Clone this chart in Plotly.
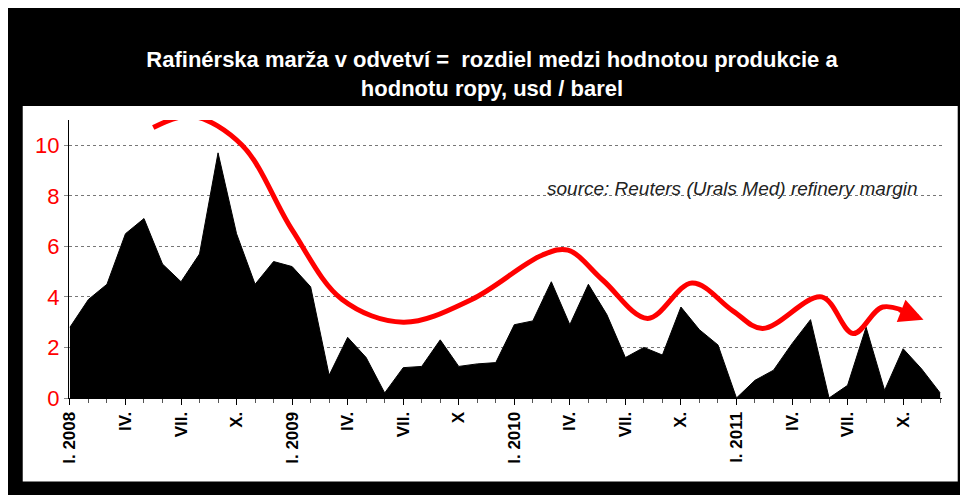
import plotly.graph_objects as go

months = list(range(48))
margin = [2.8, 3.9, 4.5, 6.5, 7.1, 5.3, 4.6, 5.7, 9.7, 6.5, 4.5, 5.4,
          5.2, 4.4, 0.9, 2.4, 1.6, 0.2, 1.2, 1.25, 2.3, 1.25, 1.35, 1.4,
          2.9, 3.05, 4.6, 2.9, 4.5, 3.3, 1.6, 2.0, 1.7, 3.6, 2.7, 2.1,
          0.0, 0.7, 1.1, 2.15, 3.1, 0.0, 0.5, 2.8, 0.3, 1.95, 1.15, 0.2]

trend_x = [4.5, 6.6, 9.3, 12, 14.7, 18, 21.7, 25.5, 26.9, 28.8, 31.2, 33.6, 35.8, 37.4, 40.6, 42.3, 43.9, 45.8]
trend_y = [10.7, 11.15, 10.0, 6.65, 3.9, 3.0, 3.9, 5.65, 5.85, 4.65, 3.15, 4.55, 3.45, 2.75, 4.0, 2.55, 3.6, 3.2]

tick_pos = list(range(0, 48, 3))
tick_text = ["I. 2008", "IV.", "VII.", "X.", "I. 2009", "IV.", "VII.", "X",
             "I. 2010", "IV.", "VII.", "X.", "I. 2011", "IV.", "VII.", "X."]

fig = go.Figure()
fig.add_trace(go.Scatter(x=months, y=margin, mode="lines", fill="tozeroy",
                         line=dict(color="black", width=1), fillcolor="black"))
fig.add_trace(go.Scatter(x=trend_x, y=trend_y, mode="lines", cliponaxis=False,
                         line=dict(color="#ff0000", width=5, shape="spline", smoothing=1.0)))

# arrow head at the end of the trend
fig.add_annotation(x=trend_x[-1] + 0.3, y=trend_y[-1] - 0.1, ax=trend_x[-2] + 0.8, ay=trend_y[-2] - 0.1,
                   xref="x", yref="y", axref="x", ayref="y", text="", showarrow=True,
                   arrowhead=2, arrowsize=1.2, arrowwidth=4, arrowcolor="#ff0000")

fig.add_annotation(x=0.975, y=0.8, xref="paper", yref="paper", xanchor="right", showarrow=False,
                   text="<i>source: Reuters (Urals Med) refinery margin</i>",
                   font=dict(family="Arial", size=19, color="#222"))

fig.add_shape(type="rect", xref="paper", yref="paper", x0=-0.053, x1=1.018, y0=-0.3, y1=1.05,
              fillcolor="white", line=dict(width=0), layer="below")

fig.update_layout(
    width=968, height=495,
    paper_bgcolor="black", plot_bgcolor="white",
    margin=dict(l=61, r=34, t=112, b=105),
    showlegend=False,
    title=dict(text="<b>Rafinérska marža v odvetví =  rozdiel medzi hodnotou produkcie a<br>hodnotu ropy, usd / barel</b>",
               x=0.5, xanchor="center", y=0.88, yanchor="middle",
               font=dict(family="Arial", size=22, color="white")),
    xaxis=dict(range=[-0.05, 47.1], tickvals=tick_pos, ticktext=tick_text, tickangle=-90,
               ticks="outside", ticklen=6, tickcolor="black", showgrid=False,
               showline=True, linecolor="black",
               minor=dict(dtick=1, ticks="outside", ticklen=4, tickcolor="#555"),
               tickfont=dict(family="Arial", size=17, color="black", weight="bold")),
    yaxis=dict(range=[0, 11], tickvals=[0, 2, 4, 6, 8, 10], showline=True, linecolor="black",
               ticks="outside", ticklen=4, tickcolor="#888",
               gridcolor="#777", griddash="dot", gridwidth=1, zeroline=False,
               tickfont=dict(family="Arial", size=22, color="#ff0000")),
)

fig.write_html("out.html")
